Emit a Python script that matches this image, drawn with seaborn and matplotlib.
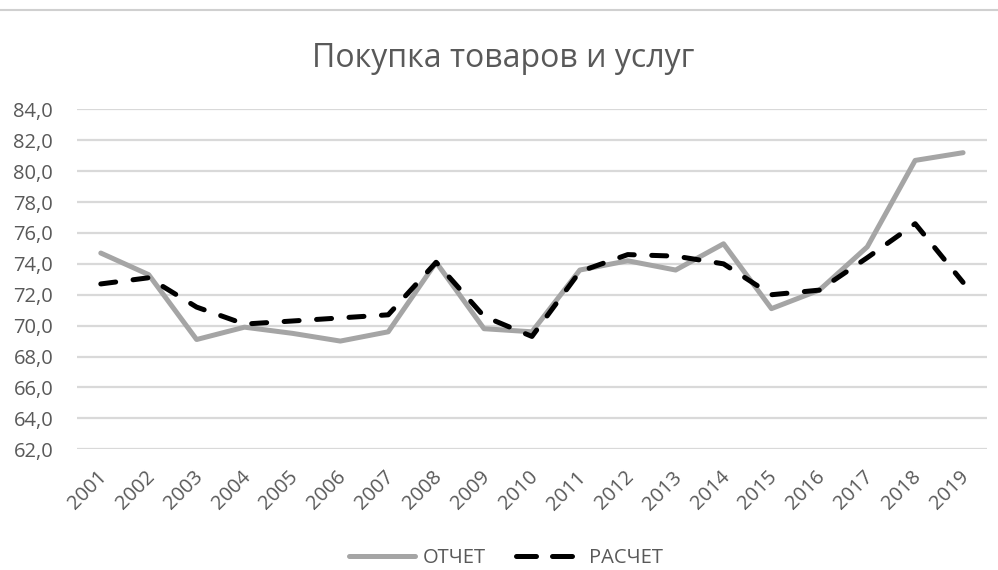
import numpy as np
import pandas as pd
import seaborn as sns
import matplotlib
matplotlib.use("Agg")
import matplotlib.pyplot as plt
import matplotlib.transforms as mtransforms
from matplotlib.lines import Line2D

years = [str(y) for y in range(2001, 2020)]
otchet = [74.7, 73.3, 69.1, 69.9, 69.5, 69.0, 69.6, 74.1, 69.8, 69.6,
          73.6, 74.2, 73.6, 75.3, 71.1, 72.3, 75.1, 80.7, 81.2]
raschet = [72.7, 73.1, 71.2, 70.1, 70.3, 70.5, 70.7, 74.1, 70.6, 69.3,
           73.5, 74.6, 74.5, 74.0, 72.0, 72.3, 74.4, 76.6, 72.8]
yticks = [62, 64, 66, 68, 70, 72, 74, 76, 78, 80, 82, 84]
title = "Покупка товаров и услуг"
names = ["ОТЧЕТ", "РАСЧЕТ"]

sns.set_theme(style="white")
plt.rcParams['font.family'] = ['Open Sans', 'DejaVu Sans']

GREY = "#A5A5A5"
TXT = "#595959"
LW = 3.6
DASH = [3.0, 3.5]
LEG_DASH = [4.0, 3.2]

fig = plt.figure(figsize=(9.98, 5.70), dpi=100)
ax = fig.add_axes([0.077, 0.212, 0.912, 0.596])

df1 = pd.DataFrame({"year": years, "value": otchet})
df2 = pd.DataFrame({"year": years, "value": raschet})
sns.lineplot(data=df1, x="year", y="value", ax=ax, color=GREY,
             linewidth=LW, sort=False, legend=False)
sns.lineplot(data=df2, x="year", y="value", ax=ax, color="#000000",
             linewidth=LW, sort=False, legend=False)
ax.lines[1].set_dashes(DASH)
ax.lines[1].set_dash_capstyle("round")

ax.set_ylim(62, 84)
ax.set_xlim(-0.5, len(years) - 0.5)
ax.set_yticks(yticks)
ax.set_yticklabels([f"{v:.1f}".replace(".", ",") for v in yticks])
ax.set_xticks(range(len(years)))
ax.set_xticklabels(years, rotation=45, ha="right", rotation_mode="anchor")
ax.tick_params(axis="y", labelsize=14.5, labelcolor=TXT, length=0, pad=17)
ax.tick_params(axis="x", labelsize=14.5, labelcolor=TXT, length=0, pad=13)
ax.yaxis.grid(True, color="#D9D9D9", linewidth=1.6)
ax.xaxis.grid(False)
for s in ax.spines.values():
    s.set_visible(False)
ax.set_xlabel("")
ax.set_ylabel("")
off = mtransforms.ScaledTranslation(-4 / 100, 0, fig.dpi_scale_trans)
for lab in ax.get_xticklabels():
    lab.set_transform(lab.get_transform() + off)

fig.text(0.504, 0.897, title, ha="center", va="center", fontsize=23, color=TXT)

h = [Line2D([0], [0], color=GREY, linewidth=LW),
     Line2D([0], [0], color="#000000", linewidth=LW, dashes=LEG_DASH, dash_capstyle="round")]
leg = ax.legend(h, names, loc="center",
                bbox_to_anchor=((506 - 77) / 910, ((1 - 558 / 570) - 0.212) / 0.596),
                ncol=2, frameon=False, fontsize=14.5, labelcolor=TXT,
                handlelength=3.3, handletextpad=0.35, columnspacing=1.5)

fig.add_artist(Line2D([0, 1], [1 - 10 / 570, 1 - 10 / 570], color="#D0D0D0", linewidth=1.5,
                      transform=fig.transFigure))

fig.savefig("out.png", dpi=100, facecolor="white")
